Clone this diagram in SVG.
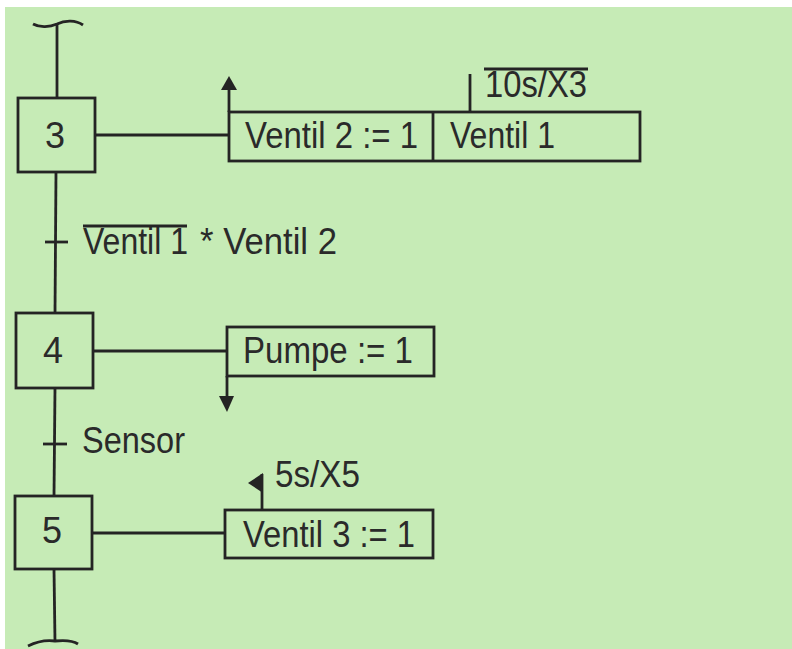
<svg xmlns="http://www.w3.org/2000/svg" width="792" height="649" viewBox="0 0 792 649">
<style>
.ln{stroke:#242424;stroke-width:2.8;fill:none;stroke-linecap:butt}
.bx{stroke:#242424;stroke-width:2.8;fill:none}
.ah{fill:#242424}
.t{font-family:"Liberation Sans",Arial,sans-serif;font-size:36px;fill:#2a2a2a}
.c{text-anchor:middle}
</style>
<rect x="0" y="0" width="792" height="649" fill="#ffffff"/>
<rect x="5" y="7" width="787" height="642" fill="#c6ebb6"/>

<g id="connectors">
<path class="ln" d="M33,24 C40,28 50,27 57,24 C65,20 76,20 83,25"/>
<line class="ln" x1="57" y1="24" x2="57" y2="98"/>
<line class="ln" x1="56" y1="172" x2="55" y2="313"/>
<line class="ln" x1="45" y1="242" x2="68" y2="242"/>
<line class="ln" x1="55" y1="388" x2="54" y2="496"/>
<line class="ln" x1="43" y1="444" x2="67" y2="444"/>
<line class="ln" x1="54" y1="569" x2="55" y2="642"/>
<path class="ln" d="M28,646 C38,641 48,640 55,641 C64,640 72,640 78,644"/>
<line class="ln" x1="95" y1="135" x2="229" y2="135"/>
<line class="ln" x1="93" y1="351" x2="227" y2="351"/>
<line class="ln" x1="92" y1="533" x2="225" y2="533"/>
</g>

<g id="step3">
<rect class="bx" x="18" y="98" width="77" height="74"/>
<text class="t c" x="55" y="148">3</text>
</g>

<g id="action3">
<rect class="bx" x="229" y="112" width="411" height="49"/>
<line class="ln" x1="433" y1="112" x2="433" y2="161"/>
<line class="ln" x1="229" y1="112" x2="229" y2="88"/>
<path class="ah" d="M229,76 L221,90 L237,90 z"/>
<text class="t" x="245" y="148" textLength="173" lengthAdjust="spacingAndGlyphs">Ventil 2 := 1</text>
<text class="t" x="450" y="148" textLength="105" lengthAdjust="spacingAndGlyphs">Ventil 1</text>
<line class="ln" x1="470" y1="74" x2="470" y2="112"/>
<text class="t" x="485" y="97" textLength="102" lengthAdjust="spacingAndGlyphs">10s/X3</text>
<line class="ln" x1="484" y1="69" x2="588" y2="69"/>
</g>

<g id="transition34">
<text class="t" x="83" y="254" textLength="105" lengthAdjust="spacingAndGlyphs">Ventil 1</text>
<text class="t" x="200" y="254" textLength="137" lengthAdjust="spacingAndGlyphs">* Ventil 2</text>
<line class="ln" x1="83" y1="226" x2="187" y2="226"/>
</g>

<g id="step4">
<rect class="bx" x="16" y="313" width="77" height="75"/>
<text class="t c" x="53" y="363">4</text>
</g>

<g id="action4">
<rect class="bx" x="227" y="327" width="207" height="49"/>
<line class="ln" x1="227" y1="376" x2="227" y2="398"/>
<path class="ah" d="M227,412 L219,396 L234,396 z"/>
<text class="t" x="243" y="363" textLength="170" lengthAdjust="spacingAndGlyphs">Pumpe := 1</text>
</g>

<g id="transition45">
<text class="t" x="82" y="453" textLength="103" lengthAdjust="spacingAndGlyphs">Sensor</text>
</g>

<g id="step5">
<rect class="bx" x="15" y="496" width="77" height="73"/>
<text class="t c" x="52" y="543">5</text>
</g>

<g id="action5">
<rect class="bx" x="225" y="510" width="208" height="48"/>
<text class="t" x="243" y="547" textLength="172" lengthAdjust="spacingAndGlyphs">Ventil 3 := 1</text>
<line class="ln" x1="262" y1="510" x2="262" y2="474"/>
<path class="ah" d="M263,473 L248,483 L263,493 z"/>
<text class="t" x="275" y="487" textLength="85" lengthAdjust="spacingAndGlyphs">5s/X5</text>
</g>
</svg>
